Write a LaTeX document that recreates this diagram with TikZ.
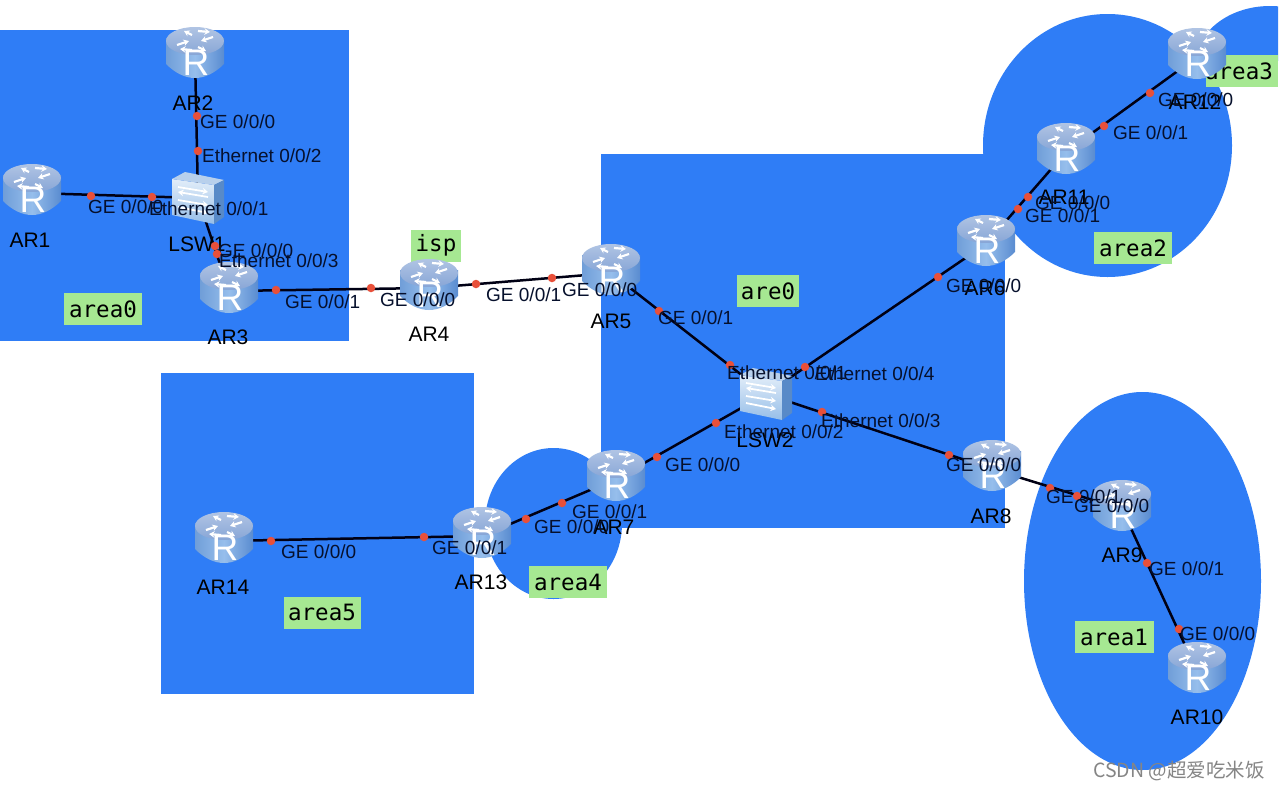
\documentclass[tikz,border=0pt]{standalone}
\usepackage{fontspec}
\setmainfont{Liberation Sans}
\setmonofont{DejaVu Sans Mono}
\newfontfamily\cjkfont{Noto Sans CJK SC}
\usetikzlibrary{arrows.meta}
\definecolor{areablue}{RGB}{47,125,246}
\definecolor{tagGreen}{RGB}{166,232,146}
\definecolor{portRed}{RGB}{232,80,58}
\definecolor{inkDark}{RGB}{6,16,44}
\newcounter{portno}
\tikzset{
  x=1pt,y=-1pt,
  area/.style={fill=areablue},
  areatag/.style={fill=tagGreen,inner sep=0pt,minimum height=32pt,font=\ttfamily\fontsize{22.5}{24}\selectfont,text=black},
  link/.style={draw=black!92!blue,line width=2.5pt},
  devbox/.style={minimum width=56pt,minimum height=52pt,inner sep=0pt},
  portdot/.style={circle,fill=portRed,inner sep=0pt,minimum size=8.5pt},
  portlabel/.style={anchor=west,inner sep=0pt,text height=13.5pt,text depth=0pt,font=\fontsize{19}{21}\selectfont,text=inkDark},
  devlabel/.style={inner sep=0pt,text height=14.5pt,text depth=0pt,font=\fontsize{21}{23}\selectfont,text=black},
  routericon/.pic={
    \shade[left color={rgb,255:red,112;green,158;blue,216},right color={rgb,255:red,90;green,140;blue,208},middle color={rgb,255:red,150;green,190;blue,236}]
      (-29,-15) -- (-29,11) .. controls (-20,20) and (-10,25) .. (0,25) .. controls (10,25) and (20,20) .. (29,11) -- (29,-15) -- cycle;
    \shade[top color={rgb,255:red,176;green,196;blue,228},bottom color={rgb,255:red,136;green,166;blue,214}]
      (0,-12) ellipse[x radius=29,y radius=14];
    \begin{scope}[white,line width=2.2pt,-{Stealth[length=5.5pt,width=6.5pt]}]
      \draw (-18,-8) -- (-6,-12);
      \draw (-3,-18) -- (-11,-22);
      \draw (18,-16) -- (6,-12);
      \draw (3,-6) -- (11,-2);
      \draw (3,-22) -- (15,-21);
      \draw (-3,-3) -- (-15,-4);
    \end{scope}
    \node[white,inner sep=0pt,font=\fontsize{37}{37}\selectfont] (-r) at (1,10) {R};
  },
  switchicon/.pic={
    \shade[top color={rgb,255:red,226;green,237;blue,249},bottom color={rgb,255:red,150;green,190;blue,232}]
      (-26,-19) -- (16,-13) -- (16,26) -- (-26,17) -- cycle;
    \fill[fill={rgb,255:red,184;green,208;blue,236}] (-26,-19) -- (-13,-26) -- (26,-18) -- (16,-13) -- cycle;
    \fill[fill={rgb,255:red,88;green,138;blue,200}] (16,-13) -- (26,-18) -- (26,19) -- (16,26) -- cycle;
    \begin{scope}[white,line width=1.8pt,-{Stealth[length=5.5pt,width=6.5pt]}]
      \draw (-20,-11) -- (10,-6);
      \draw (10,-1) -- (-20,-6);
      \draw (-20,2) -- (10,7);
      \draw (-20,9) -- (10,15);
    \end{scope}
  }
}
\newcommand{\portat}[5]{\stepcounter{portno}%
  \node[portdot] (pd\theportno) at (#1,#2) {};
  \node[portlabel] (pl\theportno) at (#3,#4) {#5};}
\begin{document}
\begin{tikzpicture}
\useasboundingbox (0,0) rectangle (1280,790);
\fill[white] (0,0) rectangle (1280,790);
% areas
\begin{scope}
  \clip (0,0) rectangle (1278,60);
  \fill[area] (1270,65) ellipse[x radius=75,y radius=59];
\end{scope}
\fill[area] (0,30) rectangle (349,341);
\fill[area] (161,373) rectangle (474,694);
\fill[area] (601,154) rectangle (1005,528);
\fill[area] (1107.5,145.5) ellipse[x radius=124.5,y radius=131.5];
\fill[area] (553.5,523.5) ellipse[x radius=68.5,y radius=75.5];
\fill[area] (1142.5,581) ellipse[x radius=118.5,y radius=189];
% tags
\node[areatag,minimum width=78pt] (tag0) at (103,309) {area0};
\node[areatag,minimum width=50pt] (tagisp) at (436,245.5) {isp};
\node[areatag,minimum width=62pt] (tagare0) at (768,291) {are0};
\node[areatag,minimum width=78pt] (tag2) at (1133,248) {area2};
\node[areatag,minimum width=72pt] (tag3) at (1242,71) {\hspace*{-6pt}area3};
\node[areatag,minimum width=78pt] (tag4) at (568,582) {area4};
\node[areatag,minimum width=77pt] (tag5) at (322,612.5) {area5};
\node[areatag,minimum width=79pt] (tag1) at (1114,637) {area1};
% device anchors
\foreach \n/\px/\py in {ar1/32/193,ar2/195/56,ar3/229/291,ar4/429/288,ar5/611/273,ar6/986/244,ar7/616/479,ar8/992/469,ar9/1122/509,ar10/1197/671,ar11/1066/152,ar12/1197/57,ar13/482/536,ar14/224/541}
  {\node[devbox] (\n) at (\px,\py) {};}
\node[devbox] (lsw1) at (198,198) {};
\node[devbox] (lsw2) at (766,394) {};
% links
\draw[link] (ar1.center) -- (lsw1.center);
\draw[link] (ar2.center) -- (lsw1.center);
\draw[link] (lsw1.center) -- (ar3.center);
\draw[link] (ar3.center) -- (ar4.center);
\draw[link] (ar4.center) -- (ar5.center);
\draw[link] (ar5.center) -- (lsw2.center);
\draw[link] (lsw2.center) -- (ar6.center);
\draw[link] (lsw2.center) -- (ar7.center);
\draw[link] (lsw2.center) -- (ar8.center);
\draw[link] (ar8.center) -- (ar9.center);
\draw[link] (ar9.center) -- (ar10.center);
\draw[link] (ar6.center) -- (ar11.center);
\draw[link] (ar11.center) -- (ar12.center);
\draw[link] (ar7.center) -- (ar13.center);
\draw[link] (ar13.center) -- (ar14.center);
% icons
\foreach \n in {ar1,ar2,ar3,ar4,ar5,ar6,ar7,ar8,ar9,ar10,ar11,ar12,ar13,ar14}
  {\pic (\n icon) at ([yshift=3pt]\n.center) {routericon};}
\pic (lsw1icon) at (lsw1.center) {switchicon};
\pic (lsw2icon) at (lsw2.center) {switchicon};
% device labels
\foreach \n/\t/\px/\py in {ar1/AR1/30/240,ar2/AR2/193/103,ar3/AR3/228/337,ar4/AR4/429/334,ar5/AR5/611/321,ar6/AR6/985/288,ar7/AR7/614/527,ar8/AR8/991/516,ar9/AR9/1122/555,ar10/AR10/1197/717,ar11/AR11/1064/197,ar12/AR12/1195/102,ar13/AR13/481/582,ar14/AR14/223/587,lsw1/LSW1/197/244,lsw2/LSW2/765/440}
  {\node[devlabel] (\n name) at (\px,\py) {\t};}
% ports
\portat{91}{196}{88}{207}{GE 0/0/0}
\portat{152}{197}{149}{209}{Ethernet 0/0/1}
\portat{197}{116}{200}{122}{GE 0/0/0}
\portat{198}{151}{202}{156}{Ethernet 0/0/2}
\portat{215}{246}{218}{251}{GE 0/0/0}
\portat{217}{254}{219}{261}{Ethernet 0/0/3}
\portat{276}{290}{285}{302}{GE 0/0/1}
\portat{371}{288}{380}{300}{GE 0/0/0}
\portat{476}{284}{486}{295}{GE 0/0/1}
\portat{552}{278}{562}{290}{GE 0/0/0}
\portat{659}{311}{658}{318}{GE 0/0/1}
\portat{730}{365}{727}{373}{Ethernet 0/0/1}
\portat{805}{367}{815}{374}{Ethernet 0/0/4}
\portat{938}{277}{946}{286}{GE 0/0/0}
\portat{716}{423}{724}{432}{Ethernet 0/0/2}
\portat{657}{457}{665}{465}{GE 0/0/0}
\portat{822}{412}{821}{421}{Ethernet 0/0/3}
\portat{949}{455}{946}{465}{GE 0/0/0}
\portat{1050}{488}{1046}{497}{GE 0/0/1}
\portat{1077}{496}{1074}{506}{GE 0/0/0}
\portat{1147}{563}{1149}{569}{GE 0/0/1}
\portat{1179}{629}{1180}{634}{GE 0/0/0}
\portat{1028}{197}{1035}{203}{GE 0/0/0}
\portat{1018}{209}{1025}{216}{GE 0/0/1}
\portat{1104}{126}{1113}{133}{GE 0/0/1}
\portat{1150}{93}{1158}{100}{GE 0/0/0}
\portat{526}{519}{534}{527}{GE 0/0/0}
\portat{562}{503}{572}{512}{GE 0/0/1}
\portat{424}{537}{432}{548}{GE 0/0/1}
\portat{271}{541}{281}{552}{GE 0/0/0}
% watermark
\node[anchor=west,inner sep=0pt,text=black!48,font=\cjkfont\fontsize{19.5}{21}\selectfont] (mark) at (1093,771) {CSDN @超爱吃米饭};
\end{tikzpicture}
\end{document}
